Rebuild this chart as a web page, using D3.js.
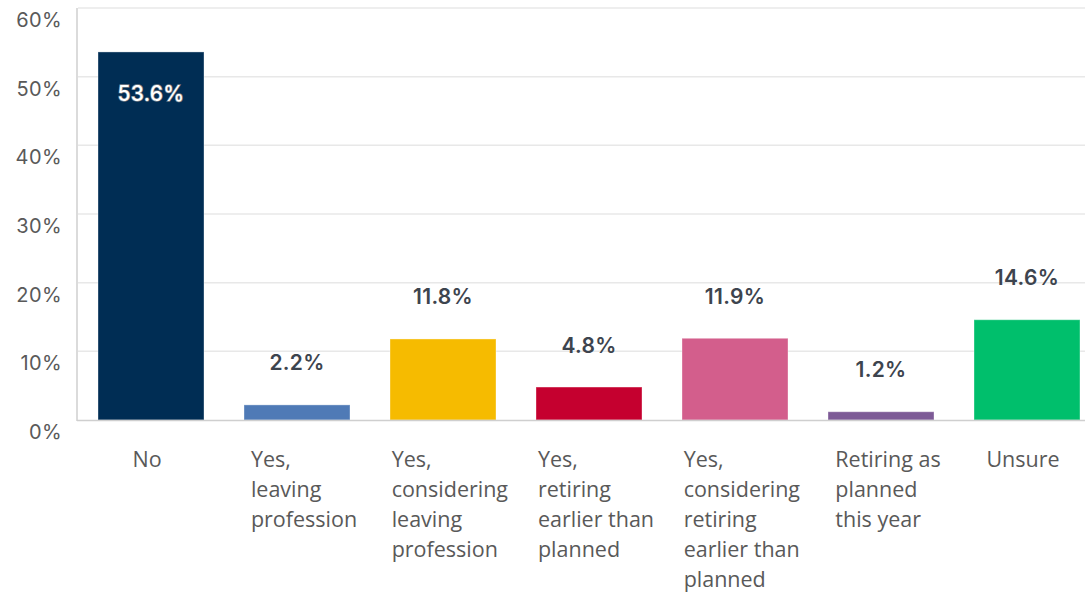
<!DOCTYPE html>
<html>
<head>
<meta charset="utf-8">
<script src="https://cdn.jsdelivr.net/npm/d3@7"></script>
<style>
  html, body { margin: 0; padding: 0; background: #fff; }
  svg { display: block; }
</style>
</head>
<body>
<svg id="chart" width="1085" height="594"></svg>
<script>
const categories = [
  ["No"],
  ["Yes,", "leaving", "profession"],
  ["Yes,", "considering", "leaving", "profession"],
  ["Yes,", "retiring", "earlier than", "planned"],
  ["Yes,", "considering", "retiring", "earlier than", "planned"],
  ["Retiring as", "planned", "this year"],
  ["Unsure"]
];
const values = [53.6, 2.2, 11.8, 4.8, 11.9, 1.2, 14.6];
const colors = ["#002d54", "#4f7ab6", "#f6bb00", "#c5002f", "#d35e8c", "#7d5a96", "#00bf6c"];
const yTicks = [0, 10, 20, 30, 40, 50, 60];

(function () {
const svg = d3.select("#chart");
const W = 1085;
const plotLeft = 78, plotTop = 8, plotBottom = 420;

const idx = values.map((d, i) => i);
const x = d3.scaleBand().domain(idx).range([plotLeft, 1100])
  .paddingInner(40 / 146).paddingOuter(20 / 146);
const y = d3.scaleLinear().domain([0, 60]).range([plotBottom, plotTop]);

// gridlines
svg.append("g").selectAll("line").data(yTicks.filter(t => t > 0)).join("line")
  .attr("x1", plotLeft).attr("x2", W)
  .attr("y1", d => y(d)).attr("y2", d => y(d))
  .attr("stroke", "#e8e8e8").attr("stroke-width", 1.5);

// y tick labels (sitting below their gridline)
svg.append("g").selectAll("text").data(yTicks).join("text")
  .attr("x", 62).attr("y", d => y(d) + 12)
  .attr("text-anchor", "end").attr("dominant-baseline", "central")
  .attr("font-family", "Inter, 'Open Sans', sans-serif")
  .attr("font-size", 20).attr("fill", "#595959")
  .attr("letter-spacing", 0.4)
  .text(d => d + "%");

// bars
svg.append("g").selectAll("rect").data(idx).join("rect")
  .attr("x", i => x(i)).attr("width", x.bandwidth())
  .attr("y", i => y(values[i])).attr("height", i => y(0) - y(values[i]))
  .attr("fill", i => colors[i])
  .attr("stroke", "rgba(255,255,255,0.35)").attr("stroke-width", 1);

// axes lines
svg.append("line").attr("x1", plotLeft - 1).attr("x2", plotLeft - 1).attr("y1", plotTop).attr("y2", plotBottom + 1)
  .attr("stroke", "#cfcfcf").attr("stroke-width", 1.5);
svg.append("line").attr("x1", plotLeft - 1).attr("x2", W).attr("y1", plotBottom + 0.5).attr("y2", plotBottom + 0.5)
  .attr("stroke", "#cfcfcf").attr("stroke-width", 1.5);

// value labels
svg.append("g").selectAll("text").data(idx).join("text")
  .attr("x", i => x(i) + x.bandwidth() / 2)
  .attr("y", i => values[i] > 50 ? y(values[i]) + 42 : y(values[i]) - 42)
  .attr("text-anchor", "middle").attr("dominant-baseline", "central")
  .attr("font-family", "Inter, 'Open Sans', sans-serif")
  .attr("font-size", 21)
  .attr("letter-spacing", 0.3)
  .attr("font-weight", i => values[i] > 50 ? 500 : 600)
  .attr("fill", i => values[i] > 50 ? "#ffffff" : "#3d444e")
  .attr("stroke", i => values[i] > 50 ? "#7a7f86" : "none")
  .attr("stroke-width", 1.4)
  .attr("paint-order", "stroke")
  .text(i => values[i].toFixed(1) + "%");

// category labels
const cl = svg.append("g").selectAll("text").data(idx).join("text")
  .attr("font-family", "'Open Sans', sans-serif")
  .attr("font-size", 21.5).attr("fill", "#595959");
cl.each(function (i) {
  const t = d3.select(this);
  categories[i].forEach((line, k) => {
    t.append("tspan").attr("x", 0).attr("y", 467 + k * 30).text(line);
  });
  const w = this.getBBox().width;
  const cx = x(i) + x.bandwidth() / 2;
  const lx = categories[i].length === 1 ? cx - w / 2 - 4 : cx - w / 2 + 7;
  t.selectAll("tspan").attr("x", lx);
});
})();
</script>
</body>
</html>
